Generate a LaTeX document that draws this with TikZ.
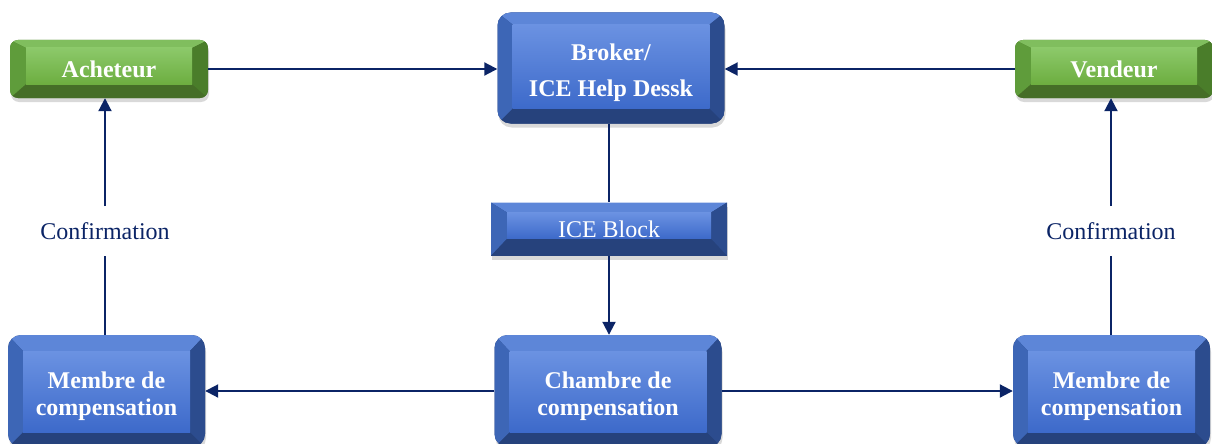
\documentclass[tikz,border=0pt]{standalone}
\usepackage{fontspec}
\setmainfont{Liberation Serif}
\usetikzlibrary{arrows.meta,positioning,shadows}

\definecolor{navy}{HTML}{0B2466}
\definecolor{gfaceT}{HTML}{8CC96A}
\definecolor{gfaceB}{HTML}{6DAE40}
\definecolor{gtop}{HTML}{80BE5E}
\definecolor{gleft}{HTML}{5F9C3B}
\definecolor{gright}{HTML}{4A7D2A}
\definecolor{gbot}{HTML}{456E27}
\definecolor{bfaceT}{HTML}{6B92E2}
\definecolor{bfaceB}{HTML}{3D6ACA}
\definecolor{btop}{HTML}{5D86D8}
\definecolor{bleft}{HTML}{3D66B6}
\definecolor{bright}{HTML}{2C4C8E}
\definecolor{bbot}{HTML}{26427C}

% bevel faces drawn inside a node: colour prefix, side, top, bottom
\newcommand\bevelfaces[4]{%
  \begin{scope}[sharp corners]
  \coordinate (onw) at (path picture bounding box.north west);
  \coordinate (one) at (path picture bounding box.north east);
  \coordinate (osw) at (path picture bounding box.south west);
  \coordinate (ose) at (path picture bounding box.south east);
  \coordinate (inw) at ([shift={(#2,-#3)}]onw);
  \coordinate (ine) at ([shift={(-#2,-#3)}]one);
  \coordinate (isw) at ([shift={(#2,#4)}]osw);
  \coordinate (ise) at ([shift={(-#2,#4)}]ose);
  \fill[#1top] (onw) -- (one) -- (ine) -- (inw) -- cycle;
  \fill[#1bot] (osw) -- (ose) -- (ise) -- (isw) -- cycle;
  \fill[#1left] (onw) -- (inw) -- (isw) -- (osw) -- cycle;
  \fill[#1right] (one) -- (ine) -- (ise) -- (ose) -- cycle;
  \shade[top color=#1faceT, bottom color=#1faceB] (inw) rectangle (ise);
  \end{scope}
}

\begin{document}
\begin{tikzpicture}[x=1pt, y=-1pt,
    every node/.style={inner sep=0pt, align=center},
    boxshadow/.style={drop shadow={shadow xshift=1pt, shadow yshift=-4pt, opacity=0.3}},
    greenbox/.style={boxshadow, rounded corners=8pt, fill=gbot,
      minimum width=198pt, minimum height=58pt,
      text=white, font=\fontsize{24}{27}\selectfont\bfseries,
      path picture={\bevelfaces{g}{16pt}{8pt}{14pt}}},
    bluebox/.style={boxshadow, rounded corners=13pt, fill=bbot,
      minimum width=227pt, minimum height=112pt,
      text height=55pt, text depth=5.2pt,
      text=white, font=\fontsize{24}{27}\selectfont\bfseries,
      path picture={\bevelfaces{b}{15pt}{16pt}{15pt}}},
    blockbox/.style={boxshadow, fill=bbot,
      minimum width=236pt, minimum height=53pt,
      text=white, font=\fontsize{24}{27}\selectfont,
      path picture={\bevelfaces{b}{16pt}{10pt}{17pt}}},
    label/.style={text=navy, font=\fontsize{24}{27}\selectfont, fill=white,
      inner xsep=4pt, inner ysep=16pt},
    link/.style={navy, line width=2pt},
    arrow/.style={link, -{Triangle[length=13pt,width=13pt]}}
  ]
  \useasboundingbox (0,0) rectangle (1212,444);
  \clip (0,0) rectangle (1212,444);

  % top row
  \node[greenbox] (acheteur) at (109,69) {Acheteur};
  \node[bluebox, minimum height=111pt, text height=62.6pt,
    path picture={\bevelfaces{b}{15pt}{12pt}{15pt}}] (broker) at (611,68) {Broker/\\[9pt]ICE Help Dessk};
  \node[greenbox] (vendeur) at (1114,69) {Vendeur};

  % middle
  \node[blockbox] (block) at (609,229) {ICE Block};
  \node[label] (confA) at (105,231) {Confirmation};
  \node[label] (confV) at (1111,231) {Confirmation};

  % bottom row
  \node[bluebox, minimum width=197pt] (membreA) at (106.5,391) {Membre de\\compensation};
  \node[bluebox] (chambre) at (608,391) {Chambre de\\compensation};
  \node[bluebox, minimum width=197pt] (membreV) at (1111.5,391) {Membre de\\compensation};

  % connectors
  \draw[arrow] (acheteur.east) -- (broker.west |- acheteur.east);
  \draw[arrow] (vendeur.west) -- (broker.east |- vendeur.west);
  \draw[link] (broker.south -| block.north) -- (block.north);
  \draw[arrow] (block.south) -- (chambre.north -| block.south);
  \draw[arrow] (chambre.west) -- (membreA.east |- chambre.west);
  \draw[arrow] (chambre.east) -- (membreV.west |- chambre.east);
  \draw[link] (membreA.north -| confA) -- (confA);
  \draw[arrow] (confA) -- (acheteur.south -| confA);
  \draw[link] (membreV.north -| confV) -- (confV);
  \draw[arrow] (confV) -- (vendeur.south -| confV);
\end{tikzpicture}
\end{document}
